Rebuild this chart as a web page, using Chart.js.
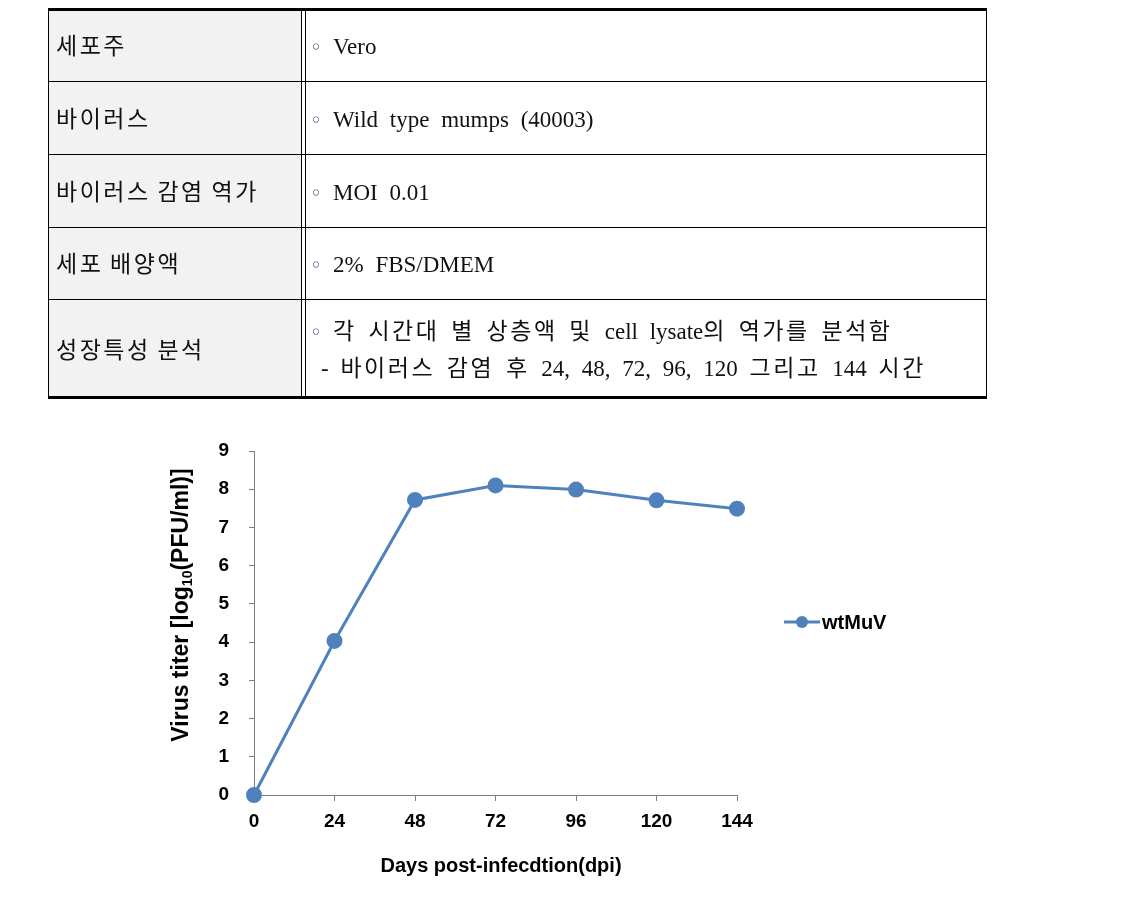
<!DOCTYPE html>
<html><head><meta charset="utf-8">
<script src="https://cdn.jsdelivr.net/npm/chart.js@4.4.1/dist/chart.umd.min.js"></script>
<style>
html,body{margin:0;padding:0;background:#fff;width:1125px;height:906px;overflow:hidden}
#c{position:absolute;left:0;top:0}
.tbl{position:absolute;left:48px;top:8px;width:939px;height:391px;z-index:2;font-family:"Liberation Serif","Noto Sans CJK KR",serif;font-size:23px;color:#111}
.tbl div{position:absolute;box-sizing:border-box}
.lc{left:0;width:253px;background:#f2f2f2}
.txt{white-space:pre;line-height:26px}
.k{letter-spacing:2.5px}
.b{color:#2f4d80;font-family:"DejaVu Sans";font-size:20px;line-height:26px}
</style></head><body>
<canvas id="c" width="1125" height="906"></canvas>
<div class="tbl" id="tbl"></div>
<script>
// ---- data ----
const hours = [0, 24, 48, 72, 96, 120, 144];
const titer = [0, 4.03, 7.72, 8.1, 7.99, 7.71, 7.49];
const xTicks = [0, 24, 48, 72, 96, 120, 144];
const yTicks = [0, 1, 2, 3, 4, 5, 6, 7, 8, 9];
const seriesName = 'wtMuV';
const xTitle = 'Days post-infecdtion(dpi)';
const yTitleParts = ['Virus titer [log', '10', '(PFU/ml)]'];
const tableLabels = ['세포주', '바이러스', '바이러스 감염 역가', '세포 배양액', '성장특성 분석'];
const tableValues = [['◦Vero'], ['◦Wild type mumps (40003)'], ['◦MOI 0.01'], ['◦2% FBS/DMEM'],
  ['◦각 시간대 별 상층액 및 cell lysate의 역가를 분석함', '- 바이러스 감염 후 24, 48, 72, 96, 120 그리고 144 시간']];

// ---- table ----
const kor = s => s.replace(/([\uAC00-\uD7A3]+)/g, '<span class="k">$1</span>');
const tbl = document.getElementById('tbl');
const rowTops = [0, 73, 146, 219, 291, 391];
let html = '';
html += '<div style="left:0;top:0;width:939px;height:391px;border-top:3px solid #000;border-bottom:3px solid #000;border-left:1px solid #000;border-right:1px solid #000"></div>';
for (let i = 0; i < 5; i++) {
  const t = rowTops[i], h = rowTops[i+1] - rowTops[i];
  html += `<div class="lc" style="top:${t + (i===0?3:1)}px;height:${h - (i===0?3:1) - (i===4?3:0)}px;left:1px"></div>`;
  if (i > 0) html += `<div style="left:0;top:${t}px;width:939px;height:1px;background:#000"></div>`;
  const cy = t + h/2 + 2;
  html += `<div class="txt" style="left:8px;top:${cy-13}px;word-spacing:1px">${kor(tableLabels[i])}</div>`;
  const vals = tableValues[i];
  vals.forEach((v, j) => {
    const yy = vals.length === 1 ? cy - 13 : cy - 32 + j*37;
    if (v.startsWith('◦')) {
      html += `<div class="b" style="left:262px;top:${yy}px">◦</div>`;
      html += `<div class="txt" style="left:285px;top:${yy}px;word-spacing:6px">${kor(v.slice(1))}</div>`;
    } else {
      html += `<div class="txt" style="left:273px;top:${yy}px;word-spacing:6px">${kor(v)}</div>`;
    }
  });
}
html += '<div style="left:253px;top:0;width:1px;height:391px;background:#000"></div>';
html += '<div style="left:257px;top:0;width:1px;height:391px;background:#000"></div>';
tbl.innerHTML = html;

// ---- chart ----
const blue = '#4f81bd';
const extras = {
  id: 'extras',
  afterDraw(chart) {
    const ctx = chart.ctx;
    ctx.save();
    ctx.fillStyle = '#000';
    // x title
    ctx.font = 'bold 20px "Liberation Sans", Arial';
    ctx.textAlign = 'center'; ctx.textBaseline = 'middle';
    ctx.fillText(xTitle, 501, 866);
    // y title with subscript
    ctx.translate(180, 605);
    ctx.rotate(-Math.PI/2);
    const big = 'bold 23px "Liberation Sans", Arial', small = 'bold 14px "Liberation Sans", Arial';
    ctx.font = big; const w0 = ctx.measureText(yTitleParts[0]).width, w2 = ctx.measureText(yTitleParts[2]).width;
    ctx.font = small; const w1 = ctx.measureText(yTitleParts[1]).width;
    let x = -(w0 + w1 + w2)/2;
    ctx.textAlign = 'left'; ctx.textBaseline = 'alphabetic';
    ctx.font = big; ctx.fillText(yTitleParts[0], x, 8); x += w0;
    ctx.font = small; ctx.fillText(yTitleParts[1], x, 12); x += w1;
    ctx.font = big; ctx.fillText(yTitleParts[2], x, 8);
    ctx.restore();
    // legend
    ctx.save();
    ctx.strokeStyle = blue; ctx.lineWidth = 3;
    ctx.beginPath(); ctx.moveTo(784, 622); ctx.lineTo(820, 622); ctx.stroke();
    ctx.fillStyle = blue; ctx.beginPath(); ctx.arc(802, 622, 6, 0, Math.PI*2); ctx.fill();
    ctx.fillStyle = '#000'; ctx.font = 'bold 20px "Liberation Sans", Arial';
    ctx.textAlign = 'left'; ctx.textBaseline = 'middle';
    ctx.fillText(seriesName, 822, 623);
    ctx.restore();
  }
};

new Chart(document.getElementById('c'), {
  type: 'line',
  data: {
    datasets: [{
      label: seriesName,
      data: hours.map((h, i) => ({x: h, y: titer[i]})),
      borderColor: blue, backgroundColor: blue,
      borderWidth: 3, pointRadius: 6.5, pointBackgroundColor: blue, pointBorderColor: blue,
      tension: 0, clip: false
    }]
  },
  options: {
    responsive: false, animation: false,
    layout: {padding: {top: 451, left: 0, right: 388, bottom: 0}},
    plugins: {legend: {display: false}, tooltip: {enabled: false}},
    scales: {
      x: {
        type: 'linear', min: 0, max: 144,
        afterFit(s) { s.height = 111; },
        afterBuildTicks(s) { s.ticks = xTicks.map(v => ({value: v})); },
        grid: {display: true, drawOnChartArea: false, drawTicks: true, tickLength: 6, color: '#7f7f7f'},
        border: {display: true, color: '#7f7f7f', width: 1},
        ticks: {color: '#000', padding: 9, font: {family: '"Liberation Sans", Arial', size: 19, weight: 'bold'}, maxRotation: 0}
      },
      y: {
        min: 0, max: 9,
        afterFit(s) { s.width = 254; },
        afterBuildTicks(s) { s.ticks = yTicks.map(v => ({value: v})); },
        grid: {display: true, drawOnChartArea: false, drawTicks: true, tickLength: 5, color: '#7f7f7f'},
        border: {display: true, color: '#7f7f7f', width: 1},
        ticks: {color: '#000', padding: 20, font: {family: '"Liberation Sans", Arial', size: 19, weight: 'bold'}}
      }
    }
  },
  plugins: [extras]
});
</script>
</body></html>
